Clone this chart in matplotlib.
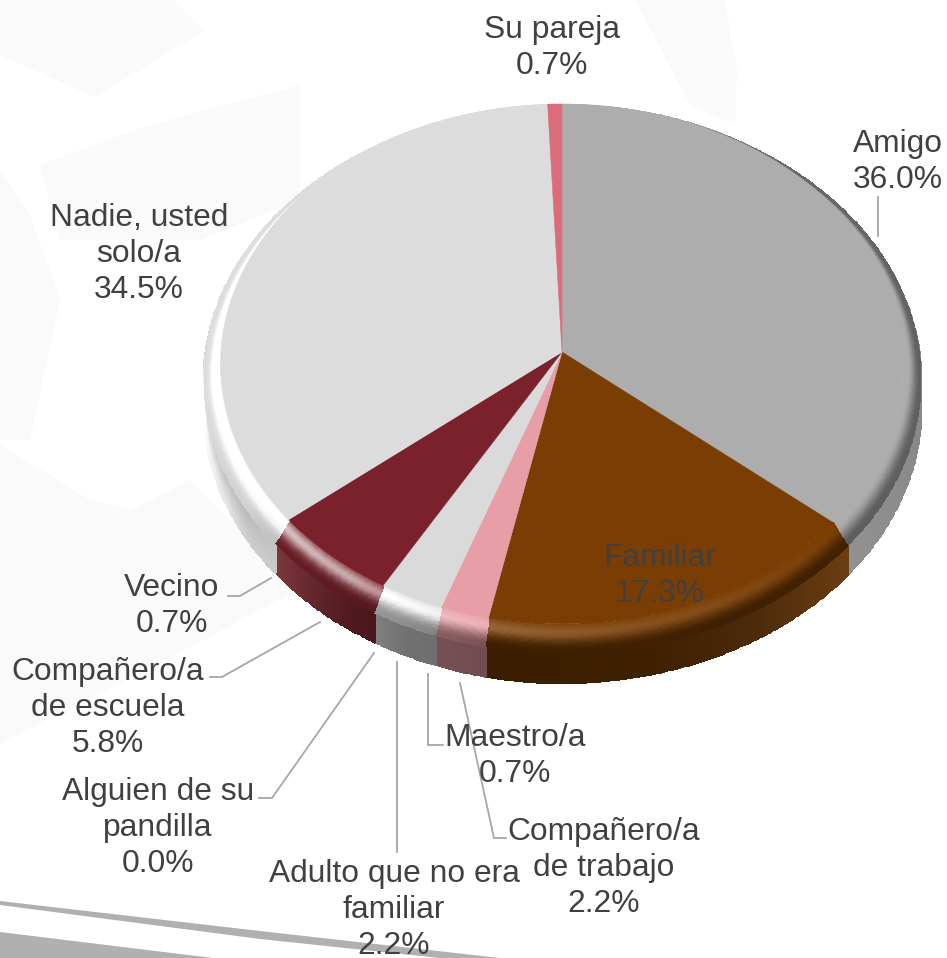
import numpy as np
import matplotlib
matplotlib.use("Agg")
import matplotlib.pyplot as plt
from matplotlib.colors import to_rgb

# datos de la grafica, en orden de las agujas del reloj desde las 12
labels = ["Amigo", "Familiar", "Compañero/a\nde trabajo", "Maestro/a",
          "Adulto que no era\nfamiliar", "Alguien de su\npandilla",
          "Compañero/a\nde escuela", "Vecino", "Nadie, usted\nsolo/a", "Su pareja"]
values = [36.0, 17.3, 2.2, 0.7, 2.2, 0.0, 5.8, 0.7, 34.5, 0.7]
colors = ["#ADADAD", "#7A3E04", "#E89EA6", "#DADADA", "#DADADA",
          "#DADADA", "#7A212B", "#DCDCDC", "#DCDCDC", "#DC6C7A"]

# centro de cada etiqueta en pixeles
label_pos = [(898, 162), (660, 576), (604, 868), (515, 756), (394, 910),
             (158, 828), (108, 708), (172, 606), (139, 254), (552, 48)]
leaders = [[(878, 197), (878, 236)],
           [(228, 596), (240, 596), (271, 578)],
           [(210, 677), (222, 677), (320, 622)],
           [(259, 798), (272, 798), (374, 653)],
           [(397, 662), (397, 852)],
           [(428, 674), (428, 745), (443, 745)],
           [(460, 683), (494, 838), (506, 838)]]

# geometria del disco (perspectiva)
cx, cy = 562, 352
rx, ry = 341, 259.4
k = 0.046
bevel_r = 0.05
bevel_drop = 14
wall_drop = 44

# sombreado segun el angulo
light_th = [0, 90, 130, 170, 195, 215, 235, 260, 300, 330, 360]
light_v = [0, 0, 0, 0.15, 0.3, 0.8, 1, 1, 0.7, 0.3, 0]
dark_th = [0, 60, 110, 150, 190, 205, 225, 240, 265, 360]
dark_v = [0.3, 0.42, 0.45, 0.48, 0.5, 0.35, 0.18, 0.05, 0, 0]
wall_th = [90, 130, 150, 190, 205, 225, 240, 265, 360]
wall_f = [0.8, 0.75, 0.55, 0.48, 0.52, 0.72, 0.85, 1.0, 1.0]
add_th = [100, 130, 150, 165, 205, 215, 231, 240]
add_v = [0, 0.06, 0.03, 0, 0, 0.02, 0.11, 0]

plt.rcParams['font.family'] = ['Liberation Sans', 'DejaVu Sans']
fig = plt.figure(figsize=(9.47, 9.58), dpi=100)
ax = fig.add_axes([0, 0, 1, 1])
ax.set_xlim(0, 947)
ax.set_ylim(958, 0)
ax.axis('off')


def project(theta, r, drop):
    rad = np.radians(theta)
    u = r * np.sin(rad)
    v = r * np.cos(rad)
    w = 1 + k * v
    return cx + rx * u / w, cy - ry * v / w + drop


def smooth(a, b, x):
    s = np.clip((x - a) / (b - a), 0, 1)
    return s * s * (3 - 2 * s)


def centers(theta, t):
    return np.meshgrid(0.5 * (theta[:-1] + theta[1:]), 0.5 * (t[:-1] + t[1:]))


# fondo: marcas de agua muy claras y franjas abajo
for poly in [[(0, 0), (175, 0), (205, 30), (95, 97), (0, 55)],
             [(40, 165), (150, 125), (300, 85), (300, 200), (200, 240), (60, 240)],
             [(0, 170), (30, 215), (60, 300), (30, 440), (0, 440)],
             [(0, 445), (90, 500), (130, 510), (190, 480), (240, 530), (300, 590), (0, 745)],
             [(635, 0), (725, 0), (737, 70), (735, 125), (690, 105)]]:
    ax.fill(*zip(*poly), color="#FAFAFB", lw=0, zorder=0)
ax.fill([0, 260, 500, 440, 260, 0], [901, 931, 958, 958, 939, 905],
        color="#B0B0B0", lw=0, zorder=1)
ax.fill([0, 0, 213], [932, 958, 958], color="#B0B0B0", lw=0, zorder=1)

# los valores suman 100.4, la ultima porcion se deja en su sitio
angles = np.concatenate([[0], np.cumsum(values)]) / 100 * 360
angles[-2] = 360 - values[-1] * 3.6
angles[-1] = 360

# pared lateral y bisel, cortados por porcion
for i, col in enumerate(colors):
    if values[i] == 0:
        continue
    base = np.array(to_rgb(col))
    n = max(int(angles[i + 1] - angles[i]) * 2, 4)
    theta = np.linspace(angles[i], angles[i + 1], n + 1)

    # pared
    t = np.linspace(0, 1, 13)
    TH, T = np.meshgrid(theta, t)
    X, Y = project(TH, 1 + bevel_r, bevel_drop + (wall_drop - bevel_drop) * T)
    THc, Tc = centers(theta, t)
    f = np.interp(THc, wall_th, wall_f)
    # a la izquierda la pared se aclara hacia abajo
    left = smooth(225, 250, THc) * (1 - smooth(300, 340, THc))
    f = f * (1 + left * (0.22 * Tc - 0.05))
    C = base * f[..., None] + np.interp(THc, add_th, add_v, left=0, right=0)[..., None]
    ax.pcolormesh(X, Y, np.clip(C, 0, 1), shading='flat', edgecolors='face',
                  linewidth=0.9, zorder=3)

    # bisel
    t = np.linspace(0, 1, 25)
    TH, T = np.meshgrid(theta, t)
    X, Y = project(TH, 1 + bevel_r * T, bevel_drop * T)
    THc, Tc = centers(theta, t)
    lit = np.interp(THc, light_th, light_v)
    bump = np.exp(-((Tc - 0.35) / 0.3) ** 2)
    strength = 1.75 if base.mean() > 0.8 else 0.75
    C = base + (1 - base) * np.clip(bump * lit * strength, 0, 1)[..., None]
    dark = smooth(0.25, 0.95, Tc) * np.interp(THc, dark_th, dark_v)
    C = C * (1 - dark[..., None])
    ax.pcolormesh(X, Y, np.clip(C, 0, 1), shading='flat', edgecolors='face',
                  linewidth=0.6, zorder=4)

# cara superior
for i, col in enumerate(colors):
    if values[i] == 0:
        continue
    theta = np.linspace(angles[i], angles[i + 1], 200)
    x, y = project(theta, 1.0, 0)
    ax.fill(np.r_[cx, x], np.r_[cy, y], facecolor=col, edgecolor=col, lw=0.4, zorder=5)

for pts in leaders:
    ax.plot(*zip(*pts), color="#A6A6A6", lw=1.3, zorder=6, solid_joinstyle='miter')

for name, v, (x, y) in zip(labels, values, label_pos):
    ax.text(x, y, f"{name}\n{v:.1f}%", ha='center', va='center', color="#404040",
            fontsize=22.9, linespacing=1.26, zorder=7)

fig.savefig("out.png", dpi=100)
